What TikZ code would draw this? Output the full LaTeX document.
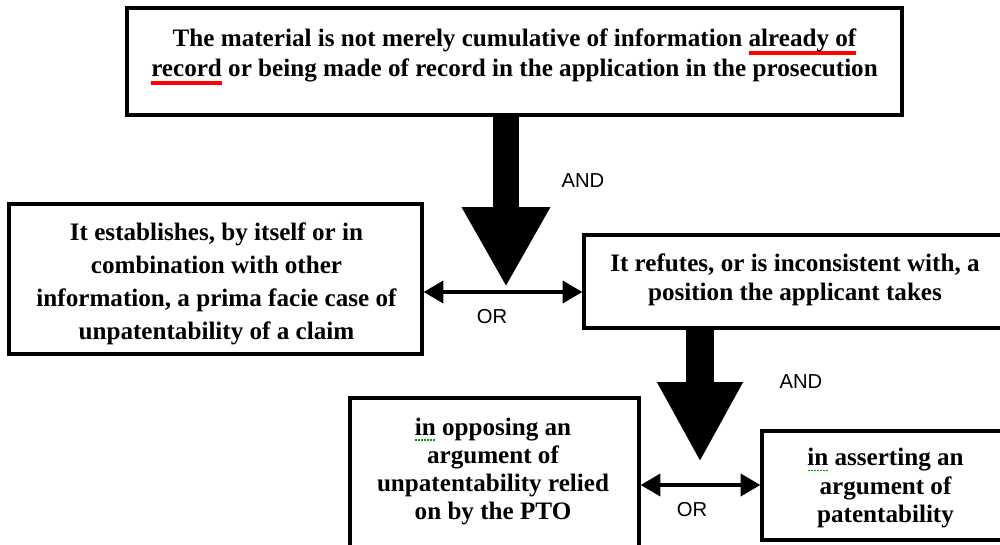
\documentclass[tikz,border=0pt]{standalone}
\usepackage{fontspec}
\setmainfont{Liberation Serif}
\newfontfamily\andorfont{Liberation Sans}
\usetikzlibrary{arrows.meta,fit}
\newsavebox\myulbox
\newcommand\redul[1]{\sbox\myulbox{#1}\rlap{\textcolor{red}{\rule[-4.6pt]{\wd\myulbox}{2.3pt}}}\usebox\myulbox}
\newcommand\greenul[1]{\sbox\myulbox{#1}\rlap{\textcolor{green!60!black}{\hbox to \wd\myulbox{\xleaders\hbox to 1.7pt{\hss\rule[-3.2pt]{1pt}{1pt}\hss}\hfill}}}\usebox\myulbox}
\tikzset{
  box/.style={draw, line width=1.8pt, inner sep=0pt, fill=white},
  txt/.style={align=center, inner sep=0pt, font=\fontsize{14.3}{#1}\selectfont\bfseries},
  txt/.default=17pt,
  lbl/.style={inner sep=0pt, font=\andorfont\fontsize{11.5}{13}\selectfont},
  blockone/.style={line width=15.3pt, -{Triangle[length=45.4pt,width=47pt]}},
  blocktwo/.style={line width=15.9pt, -{Triangle[length=45.4pt,width=45.4pt]}},
  orarrow/.style={line width=2.3pt, {Triangle[length=11.3pt,width=12.5pt]}-{Triangle[length=11.3pt,width=12.5pt]}}
}
\begin{document}
\begin{tikzpicture}[x=0.02cm,y=-0.02cm]
\useasboundingbox (0,0) rectangle (1000,544);
\clip (0,0) rectangle (1000,544);
% boxes
\node[box, fit={(127,8) (902,115)}] (top) {};
\node[box, fit={(9,204) (422,354)}] (left) {};
\node[box, fit={(584,235) (1010,328)}] (right) {};
\node[box, fit={(350,398) (639,570)}] (bleft) {};
\node[box, fit={(762,431) (1010,540)}] (bright) {};
% texts
\node[txt=17pt] (ttop) at (514.5,57) {The material is not merely cumulative of information \redul{already of}\\\redul{record} or being made of record in the application in the prosecution};
\node[txt=18.8pt] (tleft) at (216.5,283.5) {It establishes, by itself or in\\combination with other\\information, a prima facie case of\\unpatentability of a claim};
\node[txt=16.5pt] (tright) at (795,279.5) {It refutes, or is inconsistent with, a\\position the applicant takes};
\node[txt=16.1pt] (tbleft) at (493,471.5) {\greenul{in} opposing an\\argument of\\unpatentability relied\\on by the PTO};
\node[txt=16.1pt] (tbright) at (885.5,488) {\greenul{in} asserting an\\argument of\\patentability};
% labels
\node[lbl] (and1) at (583,181) {AND};
\node[lbl] (or1) at (492,317) {OR};
\node[lbl] (and2) at (801,382) {AND};
\node[lbl] (or2) at (692,510) {OR};
% connector points
\coordinate (tip1) at (506,287);
\coordinate (join1) at (506,292);
\coordinate (tip2) at (700,462);
\coordinate (join2) at (700,485);
% block arrows
\draw[blockone] (top.south -| tip1) -- (tip1);
\draw[blocktwo] (right.south -| tip2) -- (tip2);
% or arrows
\draw[orarrow] (left.east |- join1) -- (right.west |- join1);
\draw[orarrow] (bleft.east |- join2) -- (bright.west |- join2);
\end{tikzpicture}
\end{document}
